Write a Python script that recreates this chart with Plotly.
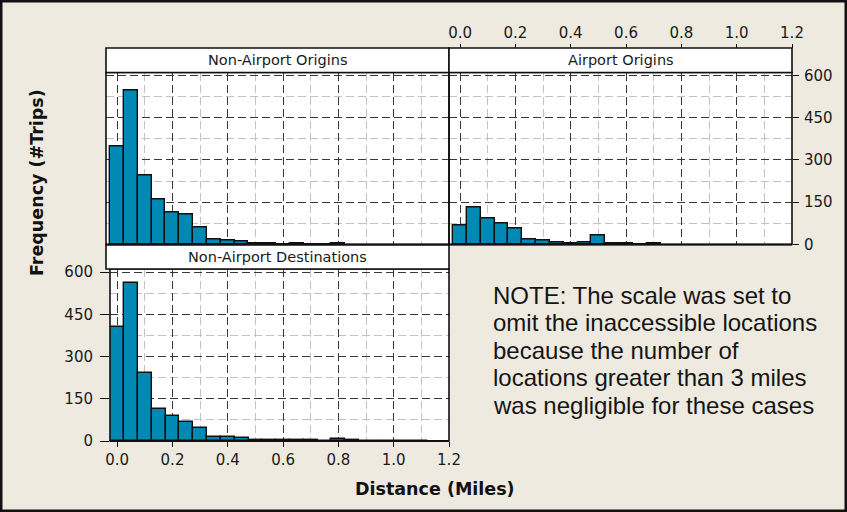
import plotly.graph_objects as go

# Histogram counts per 0.05-mile bin (bin i is centred on i * 0.05 miles)
bin_width = 0.05
nonairport_origins = [347, 547, 246, 158, 112, 106, 62, 19, 14, 9, 4, 4, 0, 4, 0, 0, 4]
airport_origins = [68, 131, 93, 73, 56, 18, 13, 8, 4, 8, 31, 5, 4, 0, 4]
nonairport_destinations = [406, 562, 241, 112, 90, 69, 47, 15, 15, 9, 4, 4, 4, 4, 4, 1, 6, 2, 1, 1, 1, 1, 1]

panel_titles = ["Non-Airport Origins", "Airport Origins", "Non-Airport Destinations"]
x_tickvals = [0.0, 0.2, 0.4, 0.6, 0.8, 1.0, 1.2]
x_ticktext = ["0.0", "0.2", "0.4", "0.6", "0.8", "1.0", "1.2"]
x_minor = [0.1, 0.3, 0.5, 0.7, 0.9, 1.1]
y_tickvals = [0, 150, 300, 450, 600]
y_ticktext = ["0", "150", "300", "450", "600"]
y_minor = [75, 225, 375, 525]

x_title = "Distance (Miles)"
y_title = "Frequency (#Trips)"
note_lines = [
    "NOTE: The scale was set to",
    "omit the inaccessible locations",
    "because the number of",
    "locations greater than 3 miles",
    "was negligible for these cases",
]

W, H = 847, 512
BG = "#EEEAE0"
BAR = "#0089B3"
MAJOR = "#383838"
MINOR = "#c2c2c2"
TXT = "#1a1a1a"


def px_x(p):
    return p / W


def px_y(p):
    return 1 - p / H


# panel geometry (pixels)
TL = dict(x0=106, x1=449, y0=72.5, y1=244.5)
TR = dict(x0=449, x1=792, y0=72.5, y1=244.5)
BL = dict(x0=110, x1=449, y0=269, y1=441)
STRIP_TOP = [(106, 449, 48, 72.5), (449, 792, 48, 72.5)]
STRIP_BOT = (106, 449, 245, 269)


def centers(counts):
    return [i * bin_width for i in range(len(counts))]


fig = go.Figure()
for counts, xa, ya in [
    (nonairport_origins, "x", "y"),
    (airport_origins, "x2", "y2"),
    (nonairport_destinations, "x3", "y3"),
]:
    fig.add_trace(
        go.Bar(
            x=centers(counts),
            y=counts,
            width=bin_width,
            xaxis=xa,
            yaxis=ya,
            marker=dict(color=BAR, line=dict(color="#101010", width=1.4)),
            showlegend=False,
            hoverinfo="x+y",
        )
    )

tickfont = dict(family="DejaVu Sans", size=15, color=TXT)

grid_common = dict(
    showgrid=True,
    gridcolor=MAJOR,
    griddash="8px,4px",
    gridwidth=1.1,
    zeroline=False,
    showline=False,
    automargin=False,
    tickfont=tickfont,
    tickcolor="#101010",
    tickwidth=1.3,
)


def xgrid(**kw):
    d = dict(grid_common)
    d.update(
        tickvals=x_tickvals,
        ticktext=x_ticktext,
        minor=dict(tickvals=x_minor, showgrid=True, gridcolor=MINOR,
                   griddash="8px,4px", gridwidth=1.1, ticks=""),
    )
    d.update(kw)
    return d


def ygrid(**kw):
    d = dict(grid_common)
    d.update(
        tickvals=y_tickvals,
        ticktext=y_ticktext,
        minor=dict(tickvals=y_minor, showgrid=True, gridcolor=MINOR,
                   griddash="8px,4px", gridwidth=1.1, ticks=""),
    )
    d.update(kw)
    return d


fig.update_layout(
    width=W,
    height=H,
    margin=dict(l=0, r=0, t=0, b=0, autoexpand=False),
    paper_bgcolor=BG,
    plot_bgcolor="white",
    bargap=0,
    xaxis=xgrid(domain=[px_x(TL["x0"]), px_x(TL["x1"])], range=[-0.04, 1.2],
                anchor="y", showticklabels=False, ticks=""),
    yaxis=ygrid(domain=[px_y(TL["y1"]), px_y(TL["y0"])], range=[0, 610],
                anchor="x", showticklabels=False, ticks=""),
    xaxis2=xgrid(domain=[px_x(TR["x0"]), px_x(TR["x1"])], range=[-0.04, 1.2],
                 anchor="free", position=px_y(48), side="top",
                 ticks="outside", ticklen=4, ticklabelstandoff=0),
    yaxis2=ygrid(domain=[px_y(TR["y1"]), px_y(TR["y0"])], range=[0, 610],
                 anchor="x2", side="right", ticks="outside", ticklen=6,
                 ticklabelstandoff=2),
    xaxis3=xgrid(domain=[px_x(BL["x0"]), px_x(BL["x1"])], range=[-0.026, 1.2],
                 anchor="y3", side="bottom", ticks="outside", ticklen=5,
                 ticklabelstandoff=0),
    yaxis3=ygrid(domain=[px_y(BL["y1"]), px_y(BL["y0"])], range=[0, 611],
                 anchor="x3", side="left", ticks="outside", ticklen=9,
                 ticklabelstandoff=4),
)

shapes = []
# panel frames
for p in (TL, TR, BL):
    shapes.append(dict(type="rect", xref="paper", yref="paper",
                       x0=px_x(p["x0"]), x1=px_x(p["x1"]),
                       y0=px_y(p["y1"]), y1=px_y(p["y0"]),
                       line=dict(color="#101010", width=1.6), layer="above"))
    # heavier baseline under each panel
    shapes.append(dict(type="line", xref="paper", yref="paper",
                       x0=px_x(p["x0"]), x1=px_x(p["x1"]),
                       y0=px_y(p["y1"]), y1=px_y(p["y1"]),
                       line=dict(color="#101010", width=2.2), layer="above"))
# strip boxes
for (x0, x1, y0, y1) in STRIP_TOP + [STRIP_BOT]:
    shapes.append(dict(type="rect", xref="paper", yref="paper",
                       x0=px_x(x0), x1=px_x(x1), y0=px_y(y1), y1=px_y(y0),
                       fillcolor="white", line=dict(color="#101010", width=1.6),
                       layer="above"))
# outer frame
shapes.append(dict(type="rect", xref="paper", yref="paper", x0=0, x1=1, y0=0, y1=1,
                   line=dict(color="#111111", width=5), layer="above"))

annotations = []
strip_font = dict(family="DejaVu Sans", size=14.5, color=TXT)
for (x0, x1, y0, y1), title in zip(STRIP_TOP + [STRIP_BOT], panel_titles):
    annotations.append(dict(text=title, xref="paper", yref="paper",
                            x=px_x((x0 + x1) / 2), y=px_y((y0 + y1) / 2),
                            xanchor="center", yanchor="middle", showarrow=False,
                            font=strip_font))

title_font = dict(family="DejaVu Sans", size=17.5, color="#111111", weight="bold")
annotations.append(dict(text=y_title, xref="paper", yref="paper",
                        x=px_x(37), y=px_y(183), textangle=-90,
                        xanchor="center", yanchor="middle", showarrow=False,
                        font=title_font))
annotations.append(dict(text=x_title, xref="paper", yref="paper",
                        x=px_x(435), y=px_y(489),
                        xanchor="center", yanchor="middle", showarrow=False,
                        font=title_font))

note_font = dict(family="Liberation Sans", size=24, color="#151515")
for i, line in enumerate(note_lines):
    annotations.append(dict(text=line, xref="paper", yref="paper",
                            x=px_x(491), y=px_y(295 + i * 27.5),
                            xanchor="left", yanchor="middle", showarrow=False,
                            font=note_font))

fig.update_layout(shapes=shapes, annotations=annotations)

fig.write_html("out.html")
